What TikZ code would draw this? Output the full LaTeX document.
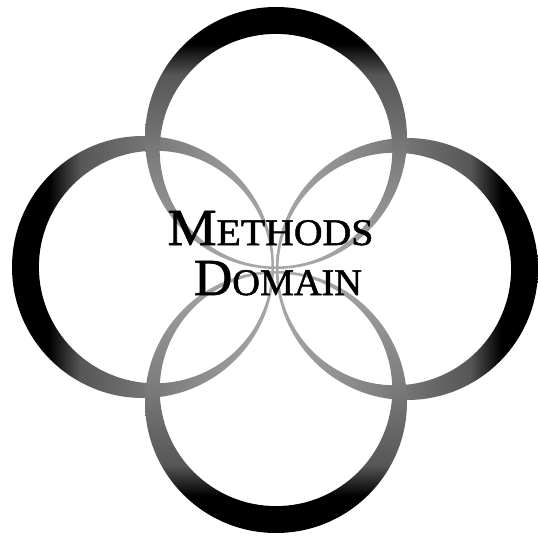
\documentclass[tikz,border=0pt]{standalone}
\usepackage{fontspec}
\setmainfont{Liberation Serif}
\newfontfamily\labelfont[FakeBold=1.3]{Liberation Serif}
\definecolor{ringA}{gray}{0.0}
\definecolor{ringB}{gray}{0.34}
\definecolor{ringC}{gray}{0.50}
\definecolor{ringD}{gray}{0.66}
\pgfdeclarehorizontalshading{ringshade}{100bp}{color(0bp)=(ringA); color(32bp)=(ringA); color(38bp)=(ringB); color(55bp)=(ringC); color(75bp)=(ringD); color(100bp)=(ringD)}
\tikzset{
  ring/.style={shading=ringshade, even odd rule},
  label/.style={inner sep=0pt, anchor=base, text=black, font=\labelfont}
}
\newcommand{\bigL}[1]{{\fontsize{52}{52}\selectfont #1}}
\newcommand{\smallL}[1]{{\fontsize{37.5}{37.5}\selectfont #1}}
\begin{document}
\begin{tikzpicture}[x=1pt,y=-1pt]
\useasboundingbox (0,0) rectangle (538,536);
\fill[white] (0,0) rectangle (538,536);
% ring centres
\coordinate (lc) at (143,267);
\coordinate (rc) at (407,269);
\coordinate (tc) at (276,138);
\coordinate (bc) at (276,402);
% inner circle centres, shifted toward the middle
\coordinate (li) at (155.2,267);
\coordinate (ri) at (394.8,269);
\coordinate (ti) at (276,150.2);
\coordinate (bi) at (276,389.8);
\shade[ring, shading angle=0] (lc) circle (131) (li) circle (116.3);
\shade[ring, shading angle=180] (rc) circle (131) (ri) circle (116.3);
\shade[ring, shading angle=-90] (tc) circle (131) (ti) circle (116.3);
\shade[ring, shading angle=90] (bc) circle (131) (bi) circle (116.3);
\node[label, xscale=1.06] (m) at (270.5,245) {\bigL{M}\smallL{ETHODS}};
\node[label, xscale=1.02] (d) at (278,295) {\bigL{D}\smallL{OMAIN}};
\end{tikzpicture}
\end{document}
